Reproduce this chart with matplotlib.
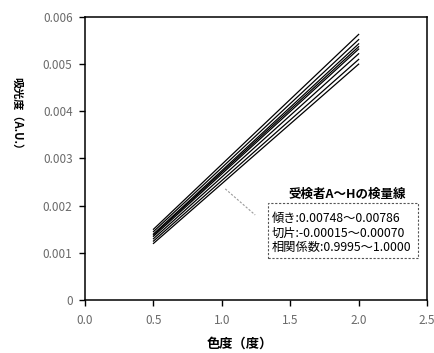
import matplotlib
matplotlib.use("Agg")
import matplotlib.pyplot as plt
from matplotlib.patches import Rectangle

plt.rcParams['font.family'] = ['Noto Sans CJK JP', 'DejaVu Sans']

x_points = [0.5, 2.0]
subjects = ["A", "B", "C", "D", "E", "F", "G", "H"]
start_vals = [0.00150, 0.00145, 0.00140, 0.00138, 0.00135, 0.00130, 0.00125, 0.00120]
end_vals = [0.00563, 0.00552, 0.00543, 0.00537, 0.00532, 0.00522, 0.00510, 0.00500]

x_ticks = [0.0, 0.5, 1.0, 1.5, 2.0, 2.5]
x_ticklabels = ["0.0", "0.5", "1.0", "1.5", "2.0", "2.5"]
y_ticks = [0, 0.001, 0.002, 0.003, 0.004, 0.005, 0.006]
y_ticklabels = ["0", "0.001", "0.002", "0.003", "0.004", "0.005", "0.006"]

title_text = "受検者A～Hの検量線"
info_lines = ["傾き:0.00748～0.00786", "切片:-0.00015～0.00070", "相関係数:0.9995～1.0000"]

fig = plt.figure(figsize=(4.34, 3.53), dpi=100)
ax = fig.add_axes([0.196, 0.150, 0.788, 0.802])

for s, e in zip(start_vals, end_vals):
    ax.plot(x_points, [s, e], color="black", lw=0.9)

ax.set_xlim(0, 2.5)
ax.set_ylim(0, 0.006)
ax.set_xticks(x_ticks)
ax.set_xticklabels(x_ticklabels)
ax.set_yticks(y_ticks)
ax.set_yticklabels(y_ticklabels)
ax.tick_params(axis='both', labelsize=8.5, labelcolor="#6a6a6a", direction='out', length=4, width=1)
ax.tick_params(axis='y', pad=5)
ax.tick_params(axis='x', pad=6)
for sp in ax.spines.values():
    sp.set_linewidth(1.1)

fig.text(0.80, 0.450, title_text, ha='center', va='center', fontsize=9, fontweight='bold')
ys = [0.380, 0.340, 0.300]
for t, yy in zip(info_lines, ys):
    fig.text(0.626, yy, t, ha='left', va='center', fontsize=8.8)

fig.patches.append(Rectangle((0.6175, 0.269), 0.3456, 0.156, transform=fig.transFigure,
                             fill=False, ec="#555555", lw=0.8, ls=(0, (2, 1.5))))
fig.lines.append(plt.Line2D([0.519, 0.588], [0.465, 0.391], transform=fig.transFigure,
                            color="#9a9a9a", lw=0.8, ls=(0, (2, 1.5))))

fig.text(0.04, 0.672, "吸光度（A.U.）", rotation=-90, ha='center', va='center', fontsize=8, fontweight='bold')
fig.text(0.553, 0.025, "色度（度）", ha='center', va='center', fontsize=9.5, fontweight='bold')

fig.savefig("out.png", dpi=100)
